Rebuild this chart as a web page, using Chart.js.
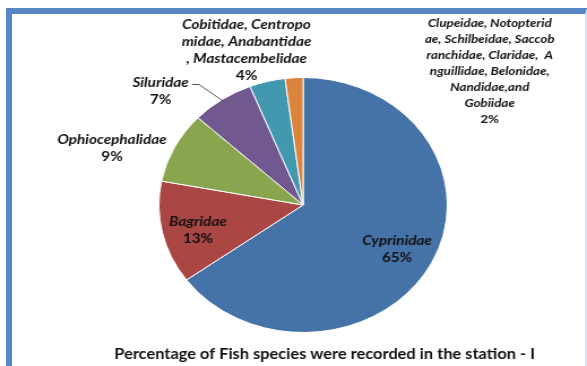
<!DOCTYPE html>
<html>
<head>
<meta charset="utf-8">
<script src="https://cdn.jsdelivr.net/npm/chart.js@4/dist/chart.umd.min.js"></script>
<style>
  html, body { margin: 0; padding: 0; background: #fff; }
  body { width: 587px; height: 366px; position: relative; overflow: hidden; }
  /* Excel-like chart frame */
  #frame {
    position: absolute; left: 6px; top: 8px; width: 573px; height: 370px;
    border-top: 6px solid #5886c4; border-left: 6px solid #5886c4;
    border-right: 2px solid #dce5f3;
  }
  /* the source image is stretched horizontally, so the chart is too */
  #wrap {
    position: absolute; left: 0; top: 0; width: 519px; height: 366px;
    transform: scaleX(1.131); transform-origin: 0 0;
  }
</style>
</head>
<body>
<div id="frame"></div>
<div id="wrap"><canvas id="pie" width="519" height="366"></canvas></div>
<script>
// Data
const families = [
  'Cyprinidae',
  'Bagridae',
  'Ophiocephalidae',
  'Siluridae',
  'Cobitidae, Centropomidae, Anabantidae, Mastacembelidae',
  'Clupeidae, Notopteridae, Schilbeidae, Saccobranchidae, Claridae, Anguillidae, Belonidae, Nandidae,and Gobiidae'
];
const percents = [65, 13, 9, 7, 4, 2];
// how the names are wrapped in the picture
const nameLines = [
  ['Cyprinidae'],
  ['Bagridae'],
  ['Ophiocephalidae'],
  ['Siluridae'],
  ['Cobitidae, Centropo', 'midae, Anabantidae', ', Mastacembelidae'],
  ['Clupeidae, Notopterid', 'ae, Schilbeidae, Saccob', 'ranchidae, Claridae,  A', 'nguillidae, Belonidae,', 'Nandidae,and', 'Gobiidae']
];
const sliceColors = ['#4572a7', '#aa4643', '#89a54e', '#71588f', '#4198af', '#db843d'];
const chartTitle = 'Percentage of Fish species were recorded in the station - I';

// label placement relative to pie centre (dx, dy), font size, line height
const labelLayout = [
  { dx: 83, dy: 44, size: 13.5, lh: 17 },
  { dx: -93, dy: 25, size: 13.5, lh: 17 },
  { dx: -169, dy: -57, size: 13.5, lh: 17 },
  { dx: -126, dy: -114, size: 13.5, lh: 17, leader: true },
  { dx: -50, dy: -155, size: 13.5, lh: 17 },
  { dx: 165, dy: -134, size: 11.8, lh: 16 }
];

const labelPlugin = {
  id: 'sliceLabels',
  afterDatasetsDraw(chart) {
    const ctx = chart.ctx;
    const meta = chart.getDatasetMeta(0);
    ctx.save();
    ctx.fillStyle = '#111';
    ctx.textAlign = 'center';
    ctx.textBaseline = 'middle';
    meta.data.forEach((arc, i) => {
      const L = labelLayout[i];
      const lines = nameLines[i].concat([percents[i] + '%']);
      const cx = arc.x + L.dx;
      const cy = arc.y + L.dy;
      const top = cy - (lines.length - 1) * L.lh / 2;
      lines.forEach((t, k) => {
        const isPct = k === lines.length - 1;
        ctx.font = (isPct ? '' : 'italic ') + 'bold ' + L.size + 'px Lato';
        ctx.fillText(t, cx, top + k * L.lh);
      });
      if (L.leader) {
        ctx.font = 'italic bold ' + L.size + 'px Lato';
        const w = ctx.measureText(nameLines[i][0]).width;
        const sx = cx + w / 2 + 3, sy = top + 2;
        const mid = (arc.startAngle + arc.endAngle) / 2;
        const ex = arc.x + Math.cos(mid) * (arc.outerRadius - 2);
        const ey = arc.y + Math.sin(mid) * (arc.outerRadius - 2);
        ctx.strokeStyle = '#444';
        ctx.lineWidth = 0.9;
        ctx.beginPath();
        ctx.moveTo(sx, sy);
        ctx.lineTo(sx + 6, sy);
        ctx.lineTo(ex, ey);
        ctx.stroke();
      }
    });
    // title under the pie
    ctx.font = 'bold 14.5px Lato';
    ctx.fillStyle = '#111';
    ctx.fillText(chartTitle, 287, 354);
    ctx.restore();
  }
};

new Chart(document.getElementById('pie'), {
  type: 'pie',
  data: {
    labels: families,
    datasets: [{
      data: percents,
      backgroundColor: sliceColors,
      borderColor: '#ffffff',
      borderWidth: 1
    }]
  },
  options: {
    responsive: false,
    animation: false,
    layout: { padding: { left: 140, right: 123, top: 77, bottom: 33 } },
    plugins: {
      legend: { display: false },
      tooltip: { enabled: false },
      title: { display: false }
    }
  },
  plugins: [labelPlugin]
});
</script>
</body>
</html>
